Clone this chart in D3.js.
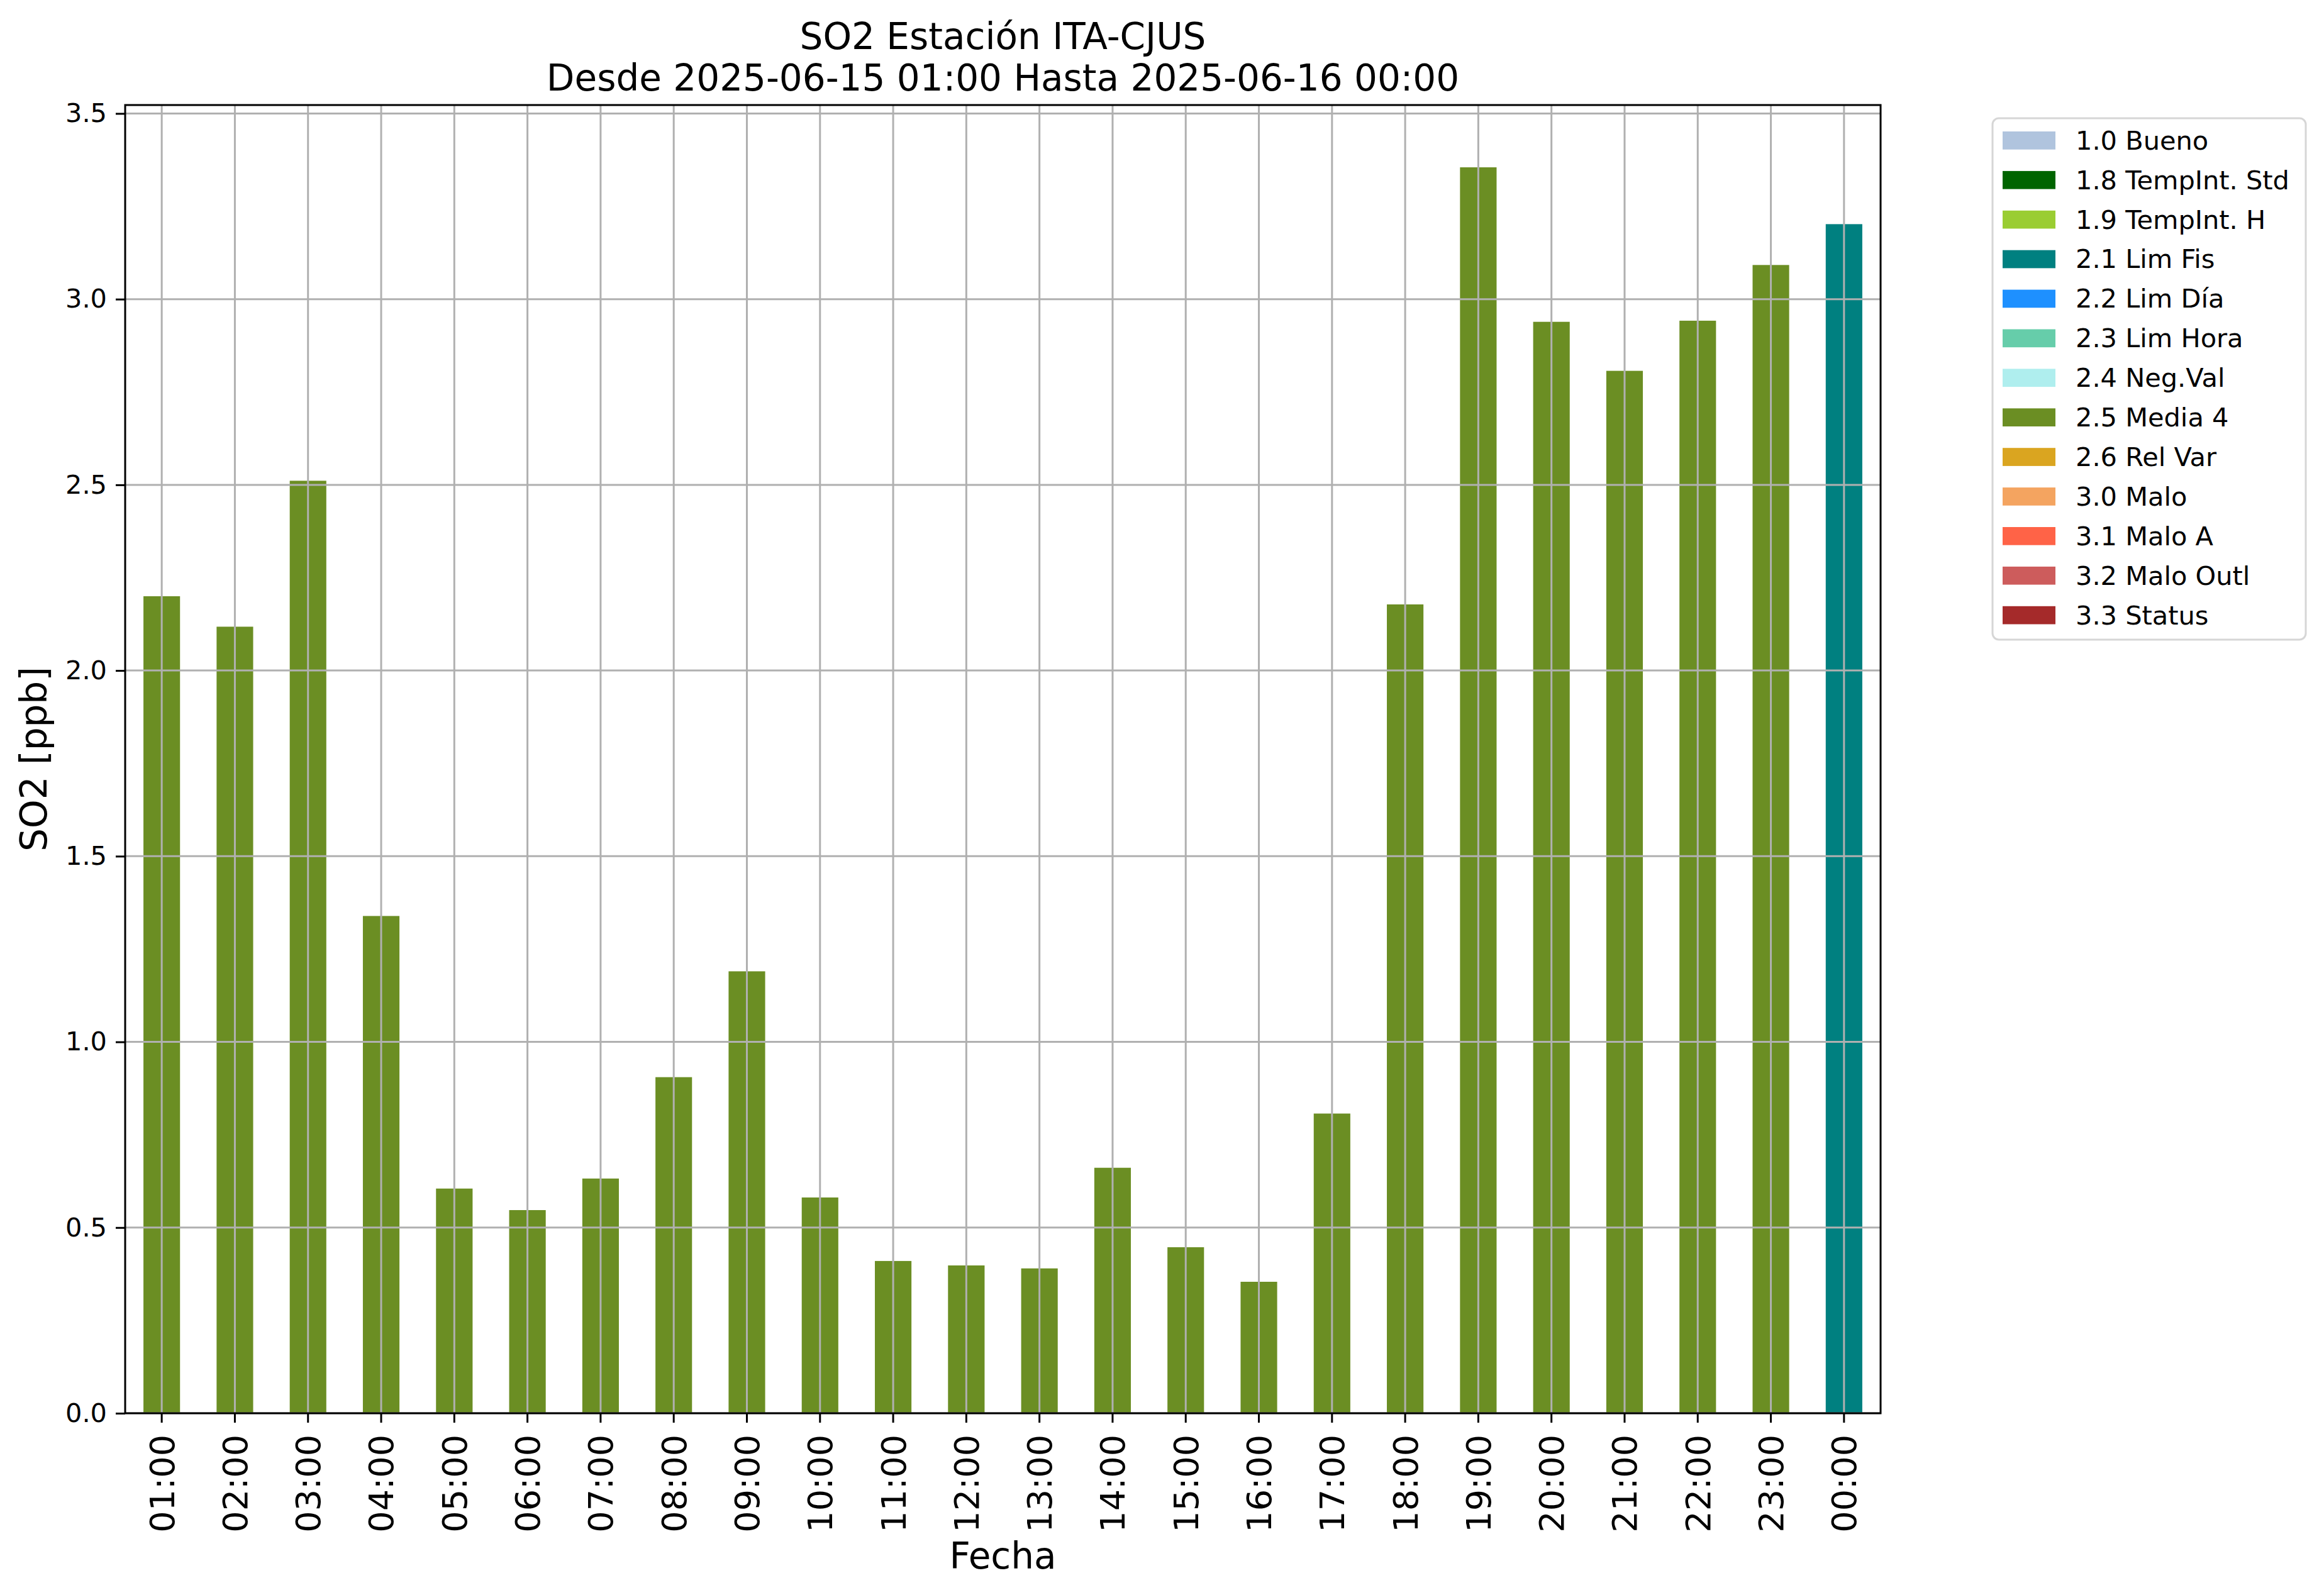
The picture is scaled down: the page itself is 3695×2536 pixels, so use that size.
<!DOCTYPE html>
<html>
<head>
<meta charset="utf-8">
<script src="https://cdn.jsdelivr.net/npm/d3@7"></script>
<style>
  html, body { margin: 0; padding: 0; background: #fff; }
  svg { display: block; font-family: "DejaVu Sans", sans-serif; }
</style>
</head>
<body>
<svg id="chart" width="3695" height="2536"></svg>
<script>
// hourly SO2 values, 2025-06-15 01:00 .. 2025-06-16 00:00
const hours = [
  "01:00", "02:00", "03:00", "04:00", "05:00", "06:00", "07:00", "08:00",
  "09:00", "10:00", "11:00", "12:00", "13:00", "14:00", "15:00", "16:00",
  "17:00", "18:00", "19:00", "20:00", "21:00", "22:00", "23:00", "00:00",
];
const so2 = [
  2.200, 2.118, 2.511, 1.339, 0.605, 0.547, 0.632, 0.905,
  1.190, 0.581, 0.410, 0.398, 0.390, 0.661, 0.447, 0.354,
  0.807, 2.178, 3.355, 2.939, 2.807, 2.942, 3.092, 3.202,
];
const flags = [
  "2.5", "2.5", "2.5", "2.5", "2.5", "2.5", "2.5", "2.5",
  "2.5", "2.5", "2.5", "2.5", "2.5", "2.5", "2.5", "2.5",
  "2.5", "2.5", "2.5", "2.5", "2.5", "2.5", "2.5", "2.1",
];

const flagCodes = ["1.0", "1.8", "1.9", "2.1", "2.2", "2.3", "2.4", "2.5", "2.6", "3.0", "3.1", "3.2", "3.3"];
const flagNames = ["Bueno", "TempInt. Std", "TempInt. H", "Lim Fis", "Lim Día", "Lim Hora",
  "Neg.Val", "Media 4", "Rel Var", "Malo", "Malo A", "Malo Outl", "Status"];
const flagColors = ["#b0c4de", "#006400", "#9acd32", "#008080", "#1e90ff", "#66cdaa",
  "#afeeee", "#6b8e23", "#daa520", "#f4a460", "#ff6347", "#cd5c5c", "#a52a2a"];

const yTicks = [0, 0.5, 1.0, 1.5, 2.0, 2.5, 3.0, 3.5];

const svg = d3.select("#chart");
const plot = { left: 199, right: 2990, top: 167, bottom: 2247 };
const gridColor = "#b0b0b0";

const x = d3.scaleBand()
  .domain(hours)
  .range([plot.left, plot.right])
  .paddingInner(0.5)
  .paddingOuter(0.25);

const y = d3.scaleLinear()
  .domain([0, d3.max(so2) * 1.05])
  .range([plot.bottom, plot.top]);

const color = d3.scaleOrdinal().domain(flagCodes).range(flagColors);

// bars
svg.append("g")
  .selectAll("rect")
  .data(hours)
  .join("rect")
  .attr("x", (d) => x(d))
  .attr("width", x.bandwidth())
  .attr("y", (d, i) => y(so2[i]))
  .attr("height", (d, i) => y(0) - y(so2[i]))
  .attr("fill", (d, i) => color(flags[i]));

// grid drawn over the bars, as in the source plot
const grid = svg.append("g").attr("stroke", gridColor).attr("stroke-width", 3);
grid.selectAll("line.v")
  .data(hours)
  .join("line")
  .attr("class", "v")
  .attr("x1", (d) => x(d) + x.bandwidth() / 2)
  .attr("x2", (d) => x(d) + x.bandwidth() / 2)
  .attr("y1", plot.top)
  .attr("y2", plot.bottom);
grid.selectAll("line.h")
  .data(yTicks)
  .join("line")
  .attr("class", "h")
  .attr("x1", plot.left)
  .attr("x2", plot.right)
  .attr("y1", (d) => y(d))
  .attr("y2", (d) => y(d));

// y axis
const yAxis = svg.append("g")
  .attr("transform", `translate(${plot.left},0)`)
  .call(d3.axisLeft(y).tickValues(yTicks).tickFormat(d3.format(".1f")).tickSize(15).tickPadding(14));
yAxis.select(".domain").remove();
yAxis.selectAll(".tick line").attr("stroke", "#000").attr("stroke-width", 3);
yAxis.selectAll(".tick text")
  .attr("font-size", 41.5)
  .attr("font-family", "DejaVu Sans")
  .attr("fill", "#000");

// x axis with vertical labels
const xAxis = svg.append("g")
  .attr("transform", `translate(0,${plot.bottom})`)
  .call(d3.axisBottom(x).tickSize(15).tickPadding(0));
xAxis.select(".domain").remove();
xAxis.selectAll(".tick line").attr("stroke", "#000").attr("stroke-width", 3);
xAxis.selectAll(".tick text")
  .attr("font-size", 54)
  .attr("font-family", "DejaVu Sans")
  .attr("fill", "#000")
  .attr("text-anchor", "end")
  .attr("transform", "translate(0,34) rotate(-90)")
  .attr("x", 0)
  .attr("y", 0)
  .attr("dy", "0.36em");

// frame
svg.append("rect")
  .attr("x", plot.left)
  .attr("y", plot.top)
  .attr("width", plot.right - plot.left)
  .attr("height", plot.bottom - plot.top)
  .attr("fill", "none")
  .attr("stroke", "#000")
  .attr("stroke-width", 3);

// titles
const cx = (plot.left + plot.right) / 2;
svg.append("text")
  .attr("x", cx).attr("y", 78)
  .attr("text-anchor", "middle")
  .attr("font-size", 58)
  .text("SO2 Estación ITA-CJUS");
svg.append("text")
  .attr("x", cx).attr("y", 144)
  .attr("text-anchor", "middle")
  .attr("font-size", 58)
  .text("Desde 2025-06-15 01:00 Hasta 2025-06-16 00:00");

svg.append("text")
  .attr("x", cx).attr("y", 2494)
  .attr("text-anchor", "middle")
  .attr("font-size", 58)
  .text("Fecha");

svg.append("text")
  .attr("transform", `translate(74,${(plot.top + plot.bottom) / 2}) rotate(-90)`)
  .attr("text-anchor", "middle")
  .attr("font-size", 58)
  .text("SO2 [ppb]");

// legend
const legend = svg.append("g");
legend.append("rect")
  .attr("x", 3168).attr("y", 188)
  .attr("width", 498).attr("height", 829)
  .attr("rx", 10)
  .attr("fill", "#fff")
  .attr("stroke", "#d6d6d6")
  .attr("stroke-width", 3);

const rowY = d3.scaleLinear().domain([0, 1]).range([237.7, 300.6]);
const items = legend.selectAll("g.item")
  .data(flagCodes)
  .join("g")
  .attr("class", "item")
  .attr("transform", (d, i) => `translate(0,${rowY(i)})`);
items.append("rect")
  .attr("x", 3184).attr("y", -28.7)
  .attr("width", 84).attr("height", 28.7)
  .attr("fill", (d) => color(d));
items.append("text")
  .attr("x", 3300).attr("y", 0)
  .attr("font-size", 41.5)
  .text((d, i) => `${d} ${flagNames[i]}`);
</script>
</body>
</html>
